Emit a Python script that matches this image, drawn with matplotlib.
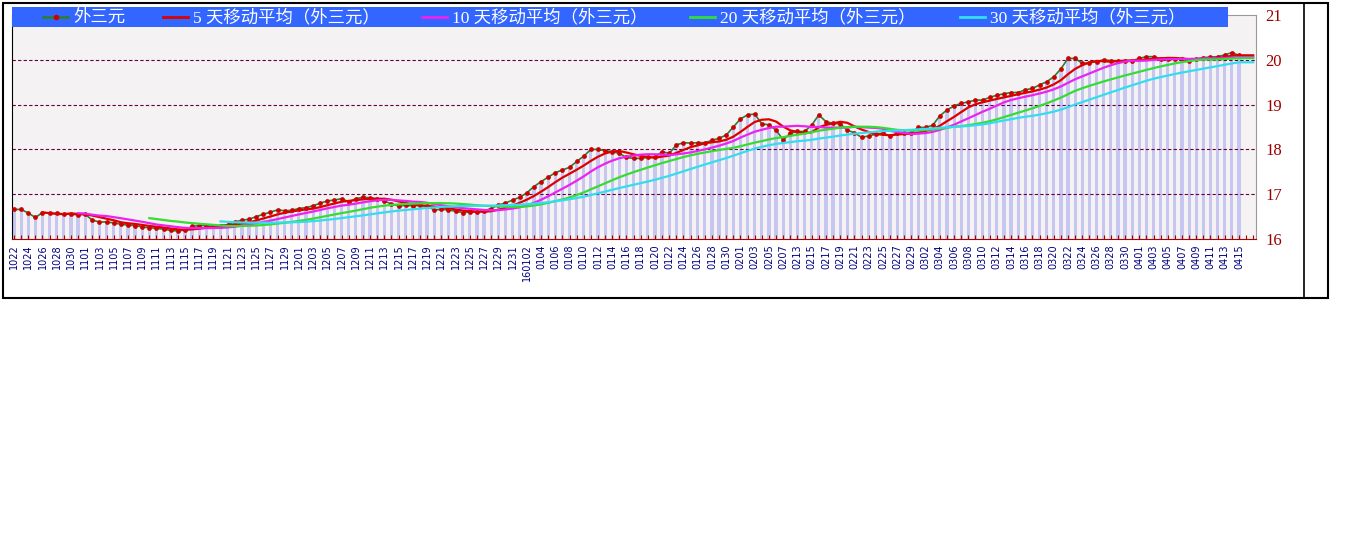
import numpy as np
import pandas as pd
import matplotlib
matplotlib.use('Agg')
import matplotlib.pyplot as plt
from matplotlib.patches import Rectangle

# daily price of 外三元, 2015-10-22 .. 2016-04-15 (no data 0208-0211)
close = [16.66, 16.66, 16.58, 16.48, 16.59, 16.58, 16.57, 16.56, 16.55, 16.54,
         16.55, 16.42, 16.38, 16.38, 16.36, 16.33, 16.31, 16.30, 16.27, 16.25,
         16.24, 16.22, 16.19, 16.18, 16.20, 16.28, 16.30, 16.30, 16.29, 16.30,
         16.32, 16.38, 16.42, 16.44, 16.50, 16.55, 16.60, 16.65, 16.63, 16.64,
         16.68, 16.70, 16.74, 16.80, 16.85, 16.87, 16.90, 16.83, 16.90, 16.93,
         16.92, 16.90, 16.85, 16.78, 16.74, 16.75, 16.74, 16.75, 16.73, 16.65,
         16.66, 16.65, 16.62, 16.59, 16.60, 16.60, 16.63, 16.68, 16.76, 16.80,
         16.87, 16.93, 17.03, 17.17, 17.28, 17.38, 17.48, 17.54, 17.60, 17.73,
         17.85, 18.00, 18.00, 17.97, 17.95, 17.91, 17.82, 17.80, 17.80, 17.82,
         17.83, 17.95, 17.91, 18.10, 18.15, 18.14, 18.15, 18.15, 18.20, 18.25,
         18.32, 18.50, 18.68, 18.77, 18.79, 18.57, 18.55, 18.43, 18.21, 18.36,
         18.40, 18.40, 18.54, 18.77, 18.62, 18.58, 18.57, 18.43, 18.37, 18.27,
         18.30, 18.34, 18.36, 18.30, 18.36, 18.36, 18.37, 18.49, 18.49, 18.54,
         18.75, 18.88, 18.97, 19.03, 19.06, 19.10, 19.10, 19.16, 19.21, 19.24,
         19.27, 19.27, 19.33, 19.36, 19.44, 19.51, 19.62, 19.80, 20.03, 20.03,
         19.92, 19.93, 19.96, 20.00, 19.98, 19.98, 19.98, 19.98, 20.03, 20.07,
         20.07, 20.02, 20.02, 20.02, 20.02, 19.98, 20.02, 20.05, 20.06, 20.07,
         20.11, 20.16, 20.10]

dates = list(pd.date_range('2015-10-22', '2016-02-07')) + list(pd.date_range('2016-02-12', '2016-04-17'))
windows = [5, 10, 20, 30]
names = ['外三元', '5 天移动平均（外三元）', '10 天移动平均（外三元）',
         '20 天移动平均（外三元）', '30 天移动平均（外三元）']
colors = ['#2e7d32', '#dd0000', '#ee22ee', '#33dd33', '#33ddee']

n = len(dates)
s = pd.Series(close)
mas = [s.rolling(w).mean().reindex(range(n)).ffill() for w in windows]

labels = []
for i, d in enumerate(dates):
    if i % 2 == 0 and i < len(close):
        lab = d.strftime('%m%d')
        if d == pd.Timestamp('2016-01-02'):
            lab = '16' + lab
        labels.append(lab)
    else:
        labels.append('')

W, H = 1348, 541
fig = plt.figure(figsize=(W / 100, H / 100), dpi=100)
fig.patch.set_facecolor('white')

sp = 7.122
ax = fig.add_axes([12 / W, 1 - 239 / H, (1256 - 12) / W, (239 - 15) / H])
ax.set_facecolor('#f4f2f2')
x = np.arange(len(close))
ax.bar(x, np.array(close) - 16, bottom=16, width=0.45, color='#c6c6f0', zorder=1)
ax.plot(x, close, color=colors[0], lw=1.2, marker='o', ms=2.4, mfc='#cc0000', mec='#cc0000', zorder=3)
for ma, c in zip(mas, colors[1:]):
    ax.plot(np.arange(n), ma, color=c, lw=1.6, zorder=3)

ax.set_xlim(-2 / sp, (1256 - 14) / sp)
ax.set_ylim(16, 21)
ax.set_xticks(range(n))
ax.set_xticklabels(labels, rotation=90, fontsize=7, color='#000080')
ax.tick_params(axis='x', direction='in', length=3, color='#aa0000', pad=4)
ax.yaxis.tick_right()
ax.set_yticks([16, 17, 18, 19, 20, 21])
ax.set_yticklabels(['16', '17', '18', '19', '20', '21'], color='#990000',
                   fontsize=12, family='Liberation Serif')
ax.tick_params(axis='y', length=0, pad=7)
for v in [17, 18, 19, 20]:
    ax.axhline(v, color='#660044', lw=0.8, ls=(0, (3, 2)), zorder=2)
ax.spines['left'].set_color('black')
ax.spines['bottom'].set_color('#aa0000')
ax.spines['top'].set_color('#999999')
ax.spines['right'].set_color('#999999')

# overlay in pixel coordinates: frame and legend band
ov = fig.add_axes([0, 0, 1, 1])
ov.set_xlim(0, W)
ov.set_ylim(H, 0)
ov.axis('off')
ov.add_patch(Rectangle((3, 3), 1325, 295, fill=False, ec='black', lw=1.5))
ov.plot([1304, 1304], [3, 298], color='black', lw=1.2)
ov.add_patch(Rectangle((12, 7), 1216, 20, color='#3366ff', lw=0))

sw = [43, 163, 422, 690, 960]
for xs, name, c in zip(sw, names, colors):
    ov.plot([xs, xs + 25], [17, 17], color=c, lw=2)
    ov.text(xs + 30, 17.5, name, color='white', fontsize=12.5, va='center', ha='left',
            family=['Liberation Serif', 'Noto Sans CJK SC'])
ov.plot([sw[0] + 12.5], [17], marker='o', ms=3, color='#cc0000')

fig.savefig('out.png', dpi=100)
